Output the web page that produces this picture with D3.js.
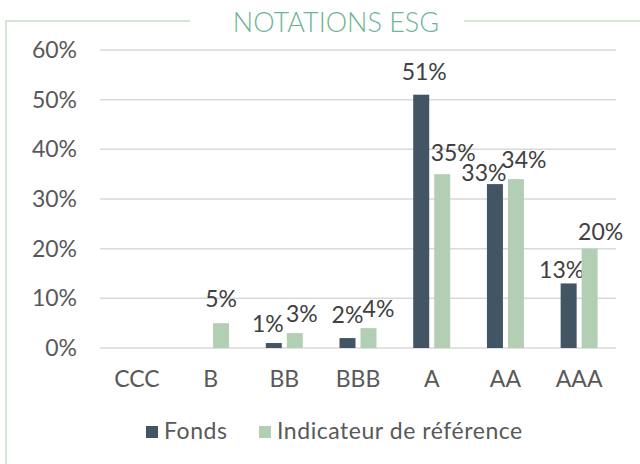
<!DOCTYPE html>
<html>
<head>
<meta charset="utf-8">
<script src="https://cdn.jsdelivr.net/npm/d3@7"></script>
<style>
  html, body { margin: 0; padding: 0; background: #fff; }
  svg { display: block; font-family: Lato, "Open Sans", sans-serif; }
</style>
</head>
<body>
<div id="chart"></div>
<script>
var categories = ["CCC", "B", "BB", "BBB", "A", "AA", "AAA"];
var seriesNames = ["Fonds", "Indicateur de référence"];
var fonds = [0, 0, 1, 2, 51, 33, 13];
var indicateur = [0, 5, 3, 4, 35, 34, 20];
var yTicks = [0, 10, 20, 30, 40, 50, 60];

// manual label nudges [dx, dy] (Excel labels were dragged a bit)
var nudgeFonds = [[0, 0], [0, 0], [-6, 0], [0, -4], [3, -4], [-11, 8], [-7, 6]];
var nudgeIndic = [[0, 0], [0, -5], [7, 0], [10, 0], [11, -2], [8, 0], [11, 2]];

var colors = ["#415565", "#b3cfb3"];
var fontSize = 23;

var width = 640, height = 464;
var margin = {top: 50, left: 100, right: 24, bottom: 116};

var svg = d3.select("#chart").append("svg")
    .attr("width", width)
    .attr("height", height);

// frame with title
var frameColor = "#c6e0c6";
svg.append("path")
    .attr("d", "M190,21 H6 V464")
    .attr("fill", "none")
    .attr("stroke", frameColor)
    .attr("stroke-width", 1.5);
svg.append("line")
    .attr("x1", 464).attr("x2", 640)
    .attr("y1", 21).attr("y2", 21)
    .attr("stroke", frameColor)
    .attr("stroke-width", 1.5);
svg.append("text")
    .attr("x", 336)
    .attr("y", 31.5)
    .attr("text-anchor", "middle")
    .attr("font-size", 27)
    .attr("font-weight", 300)
    .attr("fill", "#6db596")
    .text("NOTATIONS ESG");

var x0 = d3.scaleBand()
    .domain(categories)
    .range([margin.left, width - margin.right]);

var x1 = d3.scaleBand()
    .domain(seriesNames)
    .range([(x0.bandwidth() - 37) / 2, (x0.bandwidth() + 37) / 2])
    .paddingInner(5 / 21);

var y = d3.scaleLinear()
    .domain([0, 60])
    .range([height - margin.bottom, margin.top]);

// gridlines
svg.append("g")
    .selectAll("line")
    .data(yTicks)
    .enter().append("line")
    .attr("x1", margin.left)
    .attr("x2", width - margin.right)
    .attr("y1", d => y(d))
    .attr("y2", d => y(d))
    .attr("stroke", "#d9d9d9")
    .attr("stroke-width", 1.5);

// y axis labels
var yAxis = svg.append("g")
    .attr("transform", "translate(" + margin.left + ",0)")
    .call(d3.axisLeft(y).tickValues(yTicks).tickFormat(d => d + "%").tickSize(0).tickPadding(23));
yAxis.select(".domain").remove();
yAxis.selectAll("text")
    .attr("font-family", "Lato")
    .attr("font-size", fontSize)
    .attr("fill", "#595959");

// x axis labels
var xAxis = svg.append("g")
    .attr("transform", "translate(0," + y(0) + ")")
    .call(d3.axisBottom(x0).tickSize(0).tickPadding(23));
xAxis.select(".domain").remove();
xAxis.selectAll("text")
    .attr("font-family", "Lato")
    .attr("font-size", fontSize)
    .attr("fill", "#595959");

var series = [
    {name: seriesNames[0], values: fonds, nudge: nudgeFonds, color: colors[0]},
    {name: seriesNames[1], values: indicateur, nudge: nudgeIndic, color: colors[1]}
];

series.forEach(s => {
    var g = svg.append("g");
    g.selectAll("rect")
        .data(s.values)
        .enter().append("rect")
        .attr("x", (d, i) => x0(categories[i]) + x1(s.name))
        .attr("y", d => y(d))
        .attr("width", x1.bandwidth())
        .attr("height", d => y(0) - y(d))
        .attr("fill", s.color);

    g.selectAll("text")
        .data(s.values.map((v, i) => ({v: v, i: i})).filter(d => d.v > 0))
        .enter().append("text")
        .attr("x", d => x0(categories[d.i]) + x1(s.name) + x1.bandwidth() / 2 + s.nudge[d.i][0])
        .attr("y", d => y(d.v) - 11 + s.nudge[d.i][1])
        .attr("text-anchor", "middle")
        .attr("font-size", fontSize)
        .attr("fill", "#404040")
        .text(d => d.v + "%");
});

// legend
var legend = svg.append("g");
var legendItems = [
    {name: seriesNames[0], color: colors[0], x: 146},
    {name: seriesNames[1], color: colors[1], x: 259}
];
legendItems.forEach(l => {
    legend.append("rect")
        .attr("x", l.x)
        .attr("y", 426)
        .attr("width", 12)
        .attr("height", 12)
        .attr("fill", l.color);
    legend.append("text")
        .attr("x", l.x + 18)
        .attr("y", 439)
        .attr("font-size", fontSize)
        .attr("letter-spacing", 0.55)
        .attr("fill", "#595959")
        .text(l.name);
});
</script>
</body>
</html>
